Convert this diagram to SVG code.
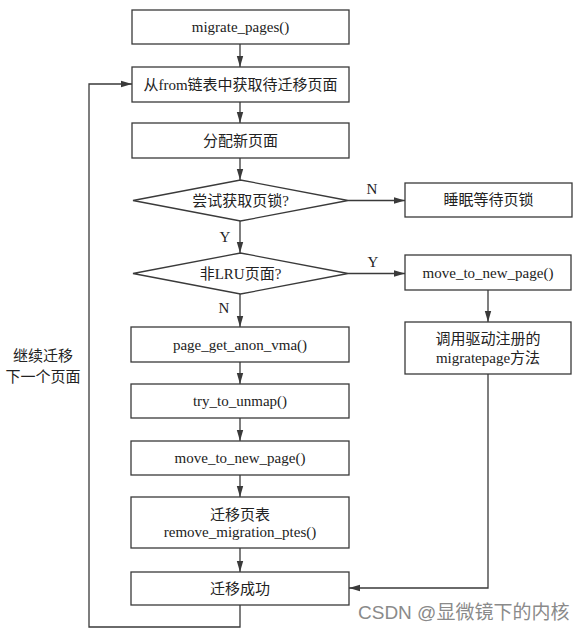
<svg xmlns="http://www.w3.org/2000/svg" width="585" height="635" viewBox="0 0 585 635">
<defs>
<marker id="ah" markerWidth="12" markerHeight="8" refX="11" refY="4" orient="auto" markerUnits="userSpaceOnUse">
<path d="M0,0.8 L11,4 L0,7.2 Z" fill="#3a3a3a"/>
</marker>
<style>
.box{fill:#fff;stroke:#3a3a3a;stroke-width:1.3}
.ln{fill:none;stroke:#3a3a3a;stroke-width:1.3}
.t{font-family:"Liberation Serif","Noto Sans CJK SC",serif;font-size:15px;fill:#222;text-anchor:middle;dominant-baseline:central}
.lbl{font-family:"Liberation Serif",serif;font-size:15px;fill:#222;text-anchor:middle;dominant-baseline:central}
.wm{font-family:"Liberation Sans","Noto Sans CJK SC",sans-serif;font-size:19px;fill:#8a8a8a;text-anchor:start;dominant-baseline:central}
</style>
</defs>
<rect width="585" height="635" fill="#fff"/>
<g id="connectors">
<line class="ln" x1="240" y1="44" x2="240" y2="67" marker-end="url(#ah)"/>
<line class="ln" x1="240" y1="102" x2="240" y2="123" marker-end="url(#ah)"/>
<line class="ln" x1="240" y1="158" x2="240" y2="180" marker-end="url(#ah)"/>
<line class="ln" x1="240" y1="221" x2="240" y2="253" marker-end="url(#ah)"/>
<line class="ln" x1="348" y1="200.5" x2="405" y2="200.5" marker-end="url(#ah)"/>
<line class="ln" x1="348" y1="273.5" x2="405" y2="273.5" marker-end="url(#ah)"/>
<line class="ln" x1="240" y1="294" x2="240" y2="327" marker-end="url(#ah)"/>
<line class="ln" x1="240" y1="362" x2="240" y2="384" marker-end="url(#ah)"/>
<line class="ln" x1="240" y1="418" x2="240" y2="441" marker-end="url(#ah)"/>
<line class="ln" x1="240" y1="475" x2="240" y2="497" marker-end="url(#ah)"/>
<line class="ln" x1="240" y1="548" x2="240" y2="572" marker-end="url(#ah)"/>
<line class="ln" x1="488" y1="290" x2="488" y2="322" marker-end="url(#ah)"/>
<polyline class="ln" points="488,374 488,588 349,588" marker-end="url(#ah)"/>
<polyline class="ln" points="240,605 240,627 89,627 89,84 132,84" marker-end="url(#ah)"/>
<text class="lbl" x="372" y="189">N</text>
<text class="lbl" x="225" y="237">Y</text>
<text class="lbl" x="373" y="262">Y</text>
<text class="lbl" x="224" y="308">N</text>
<text class="t" x="43" y="356">继续迁移</text>
<text class="t" x="43" y="377">下一个页面</text>
</g>
<g id="n_migrate_pages">
<rect class="box" x="132" y="10" width="217" height="34"/>
<text class="t" x="240.5" y="27">migrate_pages()</text>
</g>
<g id="n_get_page">
<rect class="box" x="132" y="67" width="217" height="35"/>
<text class="t" x="240.5" y="84.5">从from链表中获取待迁移页面</text>
</g>
<g id="n_alloc">
<rect class="box" x="132" y="123" width="217" height="35"/>
<text class="t" x="240.5" y="140.5">分配新页面</text>
</g>
<g id="n_trylock">
<polygon class="box" points="133,200.5 240.5,180 348,200.5 240.5,221"/>
<text class="t" x="240.5" y="200.5">尝试获取页锁?</text>
</g>
<g id="n_sleep">
<rect class="box" x="405" y="183" width="167" height="34"/>
<text class="t" x="488.5" y="200">睡眠等待页锁</text>
</g>
<g id="n_nonlru">
<polygon class="box" points="133,273.5 240.5,253 348,273.5 240.5,294"/>
<text class="t" x="240.5" y="273.5">非LRU页面?</text>
</g>
<g id="n_move_right">
<rect class="box" x="405" y="255" width="166" height="35"/>
<text class="t" x="488" y="272.5">move_to_new_page()</text>
</g>
<g id="n_driver">
<rect class="box" x="405" y="322" width="166" height="52"/>
<text class="t" x="488" y="339">调用驱动注册的</text>
<text class="t" x="488" y="358">migratepage方法</text>
</g>
<g id="n_anon_vma">
<rect class="box" x="131" y="327" width="218" height="35"/>
<text class="t" x="240" y="344.5">page_get_anon_vma()</text>
</g>
<g id="n_unmap">
<rect class="box" x="131" y="384" width="218" height="34"/>
<text class="t" x="240" y="401">try_to_unmap()</text>
</g>
<g id="n_move_left">
<rect class="box" x="131" y="441" width="218" height="34"/>
<text class="t" x="240" y="458">move_to_new_page()</text>
</g>
<g id="n_remove_ptes">
<rect class="box" x="131" y="497" width="218" height="51"/>
<text class="t" x="240" y="515">迁移页表</text>
<text class="t" x="240" y="532">remove_migration_ptes()</text>
</g>
<g id="n_success">
<rect class="box" x="131" y="572" width="218" height="33"/>
<text class="t" x="240" y="588.5">迁移成功</text>
</g>
<text class="wm" x="358" y="612">CSDN @显微镜下的内核</text>
</svg>
